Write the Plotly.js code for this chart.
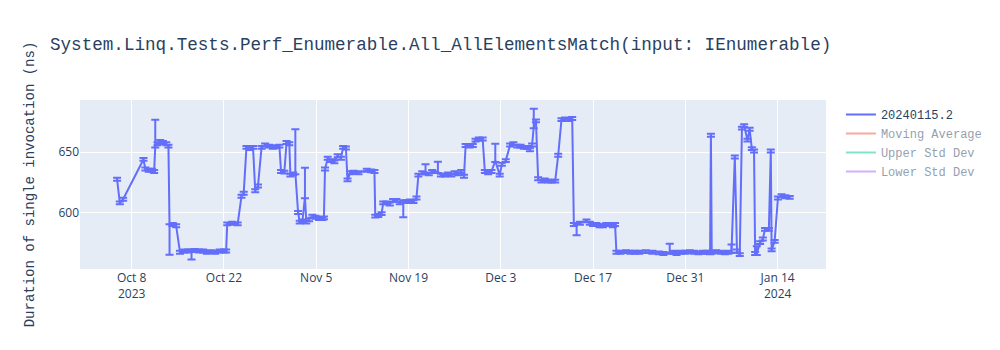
<!DOCTYPE html>
<html>
<head>
<meta charset="utf-8">
<script src="https://cdn.plot.ly/plotly-3.0.1.min.js"></script>
<style>html,body{margin:0;padding:0;background:#fff;}#chart{width:1000px;height:350px;}</style>
</head>
<body>
<div id="chart"></div>
<script>
const chartTitle = 'System.Linq.Tests.Perf_Enumerable.All_AllElementsMatch(input: IEnumerable)';
const yTitle = 'Duration of single invocation (ns)';
const seriesNames = ['20240115.2', 'Moving Average', 'Upper Std Dev', 'Lower Std Dev'];

const dates = [
'2023-10-05 19:00','2023-10-06 05:00','2023-10-06 17:00','2023-10-09 19:00','2023-10-10 02:00','2023-10-10 14:00','2023-10-11 02:00','2023-10-11 10:00','2023-10-11 14:00','2023-10-11 22:00',
'2023-10-12 08:00','2023-10-12 18:00','2023-10-13 06:00','2023-10-13 14:00','2023-10-13 18:00','2023-10-14 06:00','2023-10-14 18:00','2023-10-15 08:00','2023-10-16 00:00','2023-10-16 14:00',
'2023-10-17 02:00','2023-10-17 14:00','2023-10-18 06:00','2023-10-18 20:00','2023-10-19 10:00','2023-10-20 00:00','2023-10-20 16:00','2023-10-21 08:00','2023-10-22 00:00','2023-10-22 08:00',
'2023-10-22 12:00','2023-10-23 06:00','2023-10-24 02:00','2023-10-24 16:00','2023-10-25 00:00','2023-10-25 10:00','2023-10-25 22:00','2023-10-26 10:00','2023-10-26 18:00','2023-10-27 04:00',
'2023-10-27 17:00','2023-10-28 06:00','2023-10-28 20:00','2023-10-29 10:00','2023-10-29 22:00','2023-10-30 10:00','2023-10-30 16:00','2023-10-31 04:00','2023-10-31 12:00','2023-10-31 22:00',
'2023-11-01 02:00','2023-11-01 12:00','2023-11-01 20:00','2023-11-02 06:00','2023-11-02 12:00','2023-11-02 22:00','2023-11-03 07:00','2023-11-03 12:00','2023-11-03 22:00','2023-11-04 10:00',
'2023-11-04 22:00','2023-11-05 10:00','2023-11-05 22:00','2023-11-06 04:00','2023-11-06 08:00','2023-11-06 18:00','2023-11-07 06:00','2023-11-07 18:00','2023-11-08 06:00','2023-11-08 18:00',
'2023-11-09 02:00','2023-11-09 12:00','2023-11-09 18:00','2023-11-10 04:00','2023-11-10 16:00','2023-11-11 10:00','2023-11-12 16:00','2023-11-13 08:00','2023-11-13 20:00','2023-11-13 23:00',
'2023-11-14 10:00','2023-11-14 22:00','2023-11-15 04:00','2023-11-15 16:00','2023-11-16 04:00','2023-11-16 16:00','2023-11-17 04:00','2023-11-17 16:00','2023-11-18 05:00','2023-11-18 16:00',
'2023-11-19 06:00','2023-11-19 18:00','2023-11-20 05:00','2023-11-20 12:00','2023-11-21 02:00','2023-11-21 14:00','2023-11-22 02:00','2023-11-22 14:00','2023-11-23 11:00','2023-11-23 22:00',
'2023-11-24 12:00','2023-11-25 00:00','2023-11-25 12:00','2023-11-26 00:00','2023-11-26 12:00','2023-11-27 00:00','2023-11-27 10:00','2023-11-27 16:00','2023-11-28 06:00','2023-11-28 18:00',
'2023-11-29 04:00','2023-11-29 16:00','2023-11-30 06:00','2023-11-30 14:00','2023-12-01 02:00','2023-12-01 14:00','2023-12-02 04:00','2023-12-02 20:00','2023-12-03 04:00','2023-12-03 18:00',
'2023-12-04 10:00','2023-12-04 22:00','2023-12-05 12:00','2023-12-06 00:00','2023-12-06 12:00','2023-12-07 00:00','2023-12-07 10:00','2023-12-07 18:00','2023-12-08 00:00','2023-12-08 08:00',
'2023-12-08 16:00','2023-12-09 04:00','2023-12-09 16:00','2023-12-10 04:00','2023-12-10 16:00','2023-12-11 06:00','2023-12-11 17:00','2023-12-12 05:00','2023-12-12 18:00','2023-12-13 08:00',
'2023-12-13 20:00','2023-12-14 02:00','2023-12-14 12:00','2023-12-15 00:00','2023-12-16 00:00','2023-12-16 12:00','2023-12-17 00:00','2023-12-17 12:00','2023-12-18 00:00','2023-12-18 12:00',
'2023-12-19 00:00','2023-12-19 12:00','2023-12-20 00:00','2023-12-20 08:00','2023-12-20 13:00','2023-12-21 04:00','2023-12-22 00:00','2023-12-22 16:00','2023-12-23 08:00','2023-12-24 00:00',
'2023-12-25 00:00','2023-12-26 00:00','2023-12-27 00:00','2023-12-27 16:00','2023-12-28 15:00','2023-12-29 04:00','2023-12-29 16:00','2023-12-30 08:00','2023-12-31 00:00','2023-12-31 16:00',
'2024-01-01 08:00','2024-01-02 00:00','2024-01-02 16:00','2024-01-03 08:00','2024-01-03 18:00','2024-01-03 21:00','2024-01-04 00:00','2024-01-04 16:00','2024-01-05 08:00','2024-01-06 00:00',
'2024-01-06 12:00','2024-01-07 00:00','2024-01-07 12:00','2024-01-07 20:00','2024-01-08 06:00','2024-01-08 14:00','2024-01-08 22:00','2024-01-09 10:00','2024-01-09 18:00','2024-01-10 02:00',
'2024-01-10 10:00','2024-01-10 14:00','2024-01-10 20:00','2024-01-11 08:00','2024-01-11 18:00','2024-01-12 02:00','2024-01-12 16:00','2024-01-12 23:00','2024-01-13 02:00','2024-01-13 13:00',
'2024-01-14 01:00','2024-01-14 14:00','2024-01-15 04:00','2024-01-15 20:00'
];

const durations = [
627.5,608,611,644,636,635,635,634,655,657,
659,658,657,655,589,590,589,567,568,568,
568,568.5,568,568,567,567.5,567,568,568,568,
590.5,591,590.5,613.5,616,654,653,654,618,622,
654,656,655,654,654.5,655,634,633.5,658,657,
631,632,633,600,592,593,613,592,594,597,
596,595,595,595.5,636,645,643,642,647,645,
654,653.5,627,633,633.5,633,635,634.5,634,597,
597.5,599,608,608,607,610,610,608,609,609,
609.5,609,612,631,633,633,632,634,634,631,
631,632,631,633,632,634,630,655.5,655,655.5,
660,661,661,634,633,634,643,631,640,643,
656,657,655,655,654,654,652,656,671,676,
628,626,627,626,626,626,647.5,677,677.5,677,
678,590,590,591,593,591,590,590,589,589,
590,590,589,590,567,567,567.5,567,567,567,
567.5,567,566.5,566,567,567,566,567,567,567.5,
567,566.5,567,567,566.5,664,567,567.5,567,566.5,
567,567.5,646,568,565,670,672,660,669,653,
651,566,566,575,578,586,586,651,569,576,
612,614,613,612.5
];

const errUpper = [
1.2,1.2,1.2,1.2,1.2,1.2,1.2,1.2,22,1.2,
1.2,1.2,1.2,1.2,1.2,1.2,1.2,1.2,1.2,1.2,
1.2,1.2,1.2,1.2,1.2,1.2,1.2,1.2,1.2,1.2,
1.2,1.2,1.2,1.2,1.2,1.2,1.2,1.2,1.2,1.2,
1.2,1.2,1.2,1.2,1.2,1.2,1.2,1.2,1.2,1.2,
1.2,1.2,36,1.2,1.2,1.2,24,1.2,1.2,1.2,
1.2,1.2,1.2,1.2,1.2,1.2,1.2,1.2,1.2,1.2,
1.2,1.2,1.2,1.2,1.2,1.2,1.2,1.2,1.2,1.2,
1.2,1.2,1.2,1.2,1.2,1.2,1.2,1.2,1.2,1.2,
1.2,1.2,1.2,1.2,1.2,7,1.2,1.2,8,1.2,
1.2,1.2,1.2,1.2,1.2,1.2,1.2,1.2,1.2,1.2,
1.2,1.2,1.2,1.2,1.2,1.2,14,1.2,1.2,1.2,
1.2,1.2,1.2,1.2,1.2,1.2,1.2,1.2,15,1.2,
1.2,1.2,1.2,1.2,1.2,1.2,1.2,1.2,1.2,1.2,
1.2,1.2,1.2,1.2,1.2,1.2,1.2,1.2,1.2,1.2,
1.2,1.2,1.2,1.2,1.2,1.2,1.2,1.2,1.2,1.2,
1.2,1.2,1.2,1.2,7,1.2,1.2,1.2,1.2,1.2,
1.2,1.2,1.2,1.2,1.2,1.2,1.2,1.2,1.2,1.2,
1.2,6,1.2,1.2,1.2,1.2,1.2,1.2,1.2,1.2,
1.2,1.2,6,1.2,1.2,1.2,1.2,1.2,1.2,1.2,
1.2,1.2,1.2,1.2
];

const errLower = [
1.2,1.2,1.2,1.2,1.2,1.2,1.2,1.2,1.2,1.2,
1.2,1.2,1.2,1.2,24,1.2,1.2,1.2,1.2,1.2,
7,1.2,1.2,1.2,1.2,1.2,1.2,1.2,1.2,1.2,
1.2,1.2,1.2,1.2,1.2,1.2,1.2,1.2,1.2,1.2,
1.2,1.2,1.2,1.2,1.2,1.2,1.2,1.2,1.2,1.2,
1.2,1.2,1.2,1.2,1.2,1.2,1.2,1.2,1.2,1.2,
1.2,1.2,1.2,1.2,1.2,1.2,1.2,1.2,1.2,1.2,
1.2,1.2,1.2,1.2,1.2,1.2,1.2,1.2,1.2,1.2,
1.2,1.2,1.2,1.2,1.2,1.2,1.2,1.2,13,1.2,
1.2,1.2,1.2,1.2,1.2,1.2,1.2,1.2,1.2,1.2,
1.2,1.2,1.2,1.2,1.2,1.2,1.2,1.2,1.2,1.2,
1.2,1.2,1.2,1.2,1.2,1.2,1.2,1.2,1.2,1.2,
1.2,1.2,1.2,1.2,1.2,1.2,1.2,1.2,1.2,1.2,
1.2,1.2,1.2,1.2,1.2,1.2,1.2,1.2,1.2,1.2,
1.2,1.2,9,1.2,1.2,1.2,1.2,1.2,1.2,1.2,
1.2,1.2,1.2,1.2,1.2,1.2,1.2,1.2,1.2,1.2,
1.2,1.2,1.2,1.2,1.2,1.2,1.2,1.2,1.2,1.2,
1.2,1.2,1.2,1.2,1.2,1.2,1.2,1.2,1.2,1.2,
1.2,1.2,1.2,1.2,1.2,1.2,1.2,1.2,1.2,1.2,
1.2,1.2,1.2,1.2,1.2,1.2,1.2,1.2,1.2,1.2,
1.2,1.2,1.2,1.2
];

const mono = 'Courier New, Liberation Mono, monospace';

const traces = [
  {
    x: dates, y: durations, type: 'scatter', mode: 'lines', name: seriesNames[0],
    line: {color: '#636efa', width: 2},
    error_y: {type: 'data', symmetric: false, array: errUpper, arrayminus: errLower,
              color: '#636efa', thickness: 2, width: 4, visible: true}
  },
  {x: dates, y: durations, type: 'scatter', mode: 'lines', name: seriesNames[1],
   line: {color: '#EF553B'}, visible: 'legendonly'},
  {x: dates, y: durations, type: 'scatter', mode: 'lines', name: seriesNames[2],
   line: {color: '#00cc96'}, visible: 'legendonly'},
  {x: dates, y: durations, type: 'scatter', mode: 'lines', name: seriesNames[3],
   line: {color: '#ab63fa'}, visible: 'legendonly'}
];

const layout = {
  width: 1000, height: 350,
  margin: {l: 80, r: 174, t: 100, b: 81},
  paper_bgcolor: '#ffffff',
  plot_bgcolor: '#E5ECF6',
  font: {family: 'Open Sans, verdana, arial, sans-serif', size: 12, color: '#2a3f5f'},
  title: {text: chartTitle, x: 0.05, xanchor: 'left', font: {family: mono, size: 17.6, color: '#2a3f5f'}},
  xaxis: {type: 'date', range: ['2023-09-30 04:00', '2024-01-21 08:00'],
          tick0: '2023-10-08', dtick: 14 * 86400000,
          gridcolor: '#ffffff', gridwidth: 1, zeroline: false, showline: false, ticks: '',
          tickfont: {color: '#2a3f5f'}},
  yaxis: {range: [553.1, 693.3], dtick: 50,
          gridcolor: '#ffffff', gridwidth: 1, zeroline: false, showline: false, ticks: '',
          tickfont: {color: '#2a3f5f'},
          title: {text: yTitle, standoff: 20, font: {family: mono, size: 14, color: '#2a3f5f'}}},
  legend: {font: {family: mono, size: 12, color: '#2a3f5f'}},
  showlegend: true
};

Plotly.newPlot('chart', traces, layout, {displayModeBar: false});
</script>
</body>
</html>
